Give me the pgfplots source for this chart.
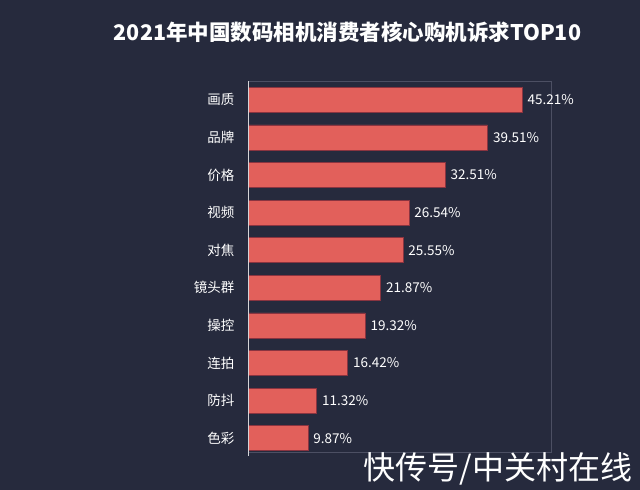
\documentclass[border=0pt]{standalone}
\usepackage{fontspec}
\setmainfont{Noto Sans CJK SC}
\usepackage{pgfplots}
\pgfplotsset{compat=1.18}
\definecolor{bgc}{HTML}{262A3D}
\definecolor{barc}{HTML}{E2605B}
\definecolor{barline}{HTML}{8A3440}
\definecolor{framec}{HTML}{4C4F63}
\begin{document}
\begin{tikzpicture}[x=1bp,y=1bp]
\fill[bgc] (0,0) rectangle (640,490);
\useasboundingbox (0,0) rectangle (640,490);
\node[white,font=\bfseries\fontsize{21.5bp}{24bp}\selectfont] at (347.5,457.5) {2021年中国数码相机消费者核心购机诉求TOP10};
\begin{axis}[
  at={(248bp,38bp)}, anchor=south west,
  scale only axis, width=303bp, height=371bp,
  xmin=0, xmax=50, ymin=-0.5, ymax=9.37,
  y dir=reverse,
  xbar, bar width=25bp,
  axis line style={draw=framec, line width=0.6bp},
  xtick=\empty,
  ytick={0,...,9},
  yticklabels={画质,品牌,价格,视频,对焦,镜头群,操控,连拍,防抖,色彩},
  major tick length=0pt,
  yticklabel style={font=\fontsize{13.5bp}{15bp}\selectfont, text=white, xshift=-10bp},
  clip=false,
  nodes near coords,
  point meta=explicit symbolic,
  every node near coord/.append style={font=\fontsize{13.5bp}{15bp}\selectfont, text=white, anchor=west, xshift=2bp},
]
\addplot[fill=barc, draw=barline, line width=0.5bp] coordinates {
(45.21,0) [45.21\%]
(39.51,1) [39.51\%]
(32.51,2) [32.51\%]
(26.54,3) [26.54\%]
(25.55,4) [25.55\%]
(21.87,5) [21.87\%]
(19.32,6) [19.32\%]
(16.42,7) [16.42\%]
(11.32,8) [11.32\%]
(9.87,9) [9.87\%]
};
\draw[color=white!80!bgc, line width=0.8bp] ([yshift=-4bp]rel axis cs:0,0) -- (rel axis cs:0,1);
\end{axis}
\node[text=white, font=\fontsize{32bp}{36bp}\selectfont, anchor=east] at (636,21) {快传号/中关村在线};
\end{tikzpicture}
\end{document}
